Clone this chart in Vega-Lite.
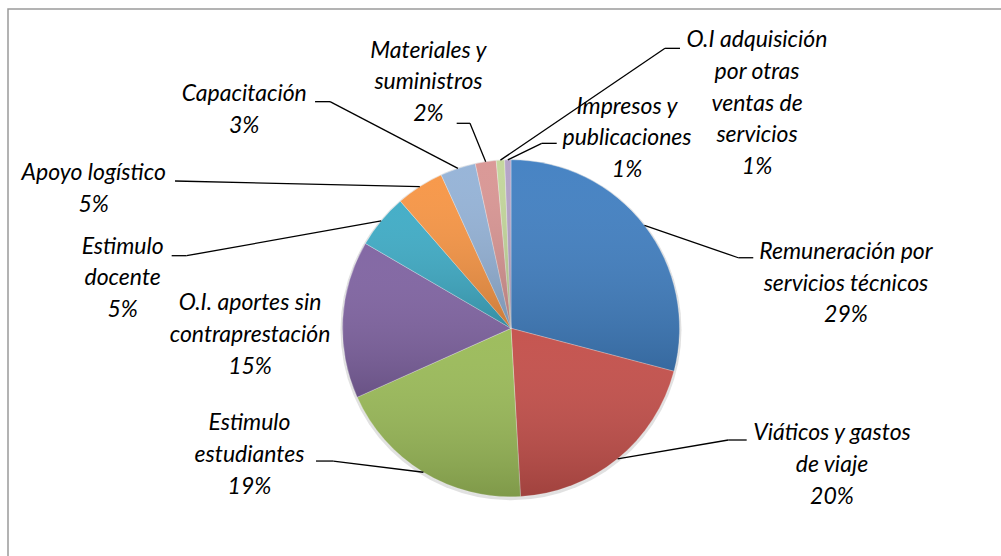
{
  "$schema": "https://vega.github.io/schema/vega-lite/v6.json",
  "width": 993,
  "height": 547,
  "autosize": {"type": "none"},
  "padding": {"left": 8, "top": 9, "right": 0, "bottom": 0},
  "background": "white",
  "config": {
    "view": {"stroke": "#9a9a9a", "strokeWidth": 1.5, "strokeDash": [993, 1540, 547]},
    "text": {"font": "Lato", "fontStyle": "italic", "fontSize": 23, "lineHeight": 31.8, "fill": "#000000", "lineBreak": "\n"}
  },
  "data": {
    "values": [
      {"idx": 1, "category": "Remuneración por servicios técnicos", "label": "Remuneración por\nservicios técnicos", "value": 29.1},
      {"idx": 2, "category": "Viáticos y gastos de viaje", "label": "Viáticos y gastos\nde viaje", "value": 20.0},
      {"idx": 3, "category": "Estimulo estudiantes", "label": "Estimulo\nestudiantes", "value": 19.2},
      {"idx": 4, "category": "O.I. aportes sin contraprestación", "label": "O.I. aportes sin\ncontraprestación", "value": 15.1},
      {"idx": 5, "category": "Estimulo docente", "label": "Estimulo\ndocente", "value": 5.2},
      {"idx": 6, "category": "Apoyo logístico", "label": "Apoyo logístico", "value": 4.6},
      {"idx": 7, "category": "Capacitación", "label": "Capacitación", "value": 3.4},
      {"idx": 8, "category": "Materiales y suministros", "label": "Materiales y\nsuministros", "value": 2.0},
      {"idx": 9, "category": "O.I adquisición por otras ventas de servicios", "label": "O.I adquisición\npor otras\nventas de\nservicios", "value": 0.8},
      {"idx": 10, "category": "Impresos y publicaciones", "label": "Impresos y\npublicaciones", "value": 0.6}
    ]
  },
  "transform": [
    {"window": [{"op": "sum", "field": "value", "as": "cum"}], "sort": [{"field": "idx"}], "frame": [null, 0]},
    {"joinaggregate": [{"op": "sum", "field": "value", "as": "total"}]},
    {"calculate": "(datum.cum - datum.value) / datum.total", "as": "f0"},
    {"calculate": "datum.cum / datum.total", "as": "f1"},
    {"calculate": "(datum.f0 + datum.f1) / 2", "as": "fm"},
    {"calculate": "sin(2 * PI * datum.fm)", "as": "ex"},
    {"calculate": "cos(2 * PI * datum.fm)", "as": "ey"},
    {"calculate": "datum.label + '\\n' + format(datum.value / datum.total, '.0%')", "as": "txt"}
  ],
  "encoding": {
    "x": {"field": "ex", "type": "quantitative", "scale": {"domain": [-2.985163, 2.908012], "nice": false, "zero": false}, "axis": null},
    "y": {"field": "ey", "type": "quantitative", "scale": {"domain": [-1.351335, 1.894955], "nice": false, "zero": false}, "axis": null}
  },
  "layer": [
    {
      "transform": [{"filter": "datum.idx == 1"}],
      "mark": {"type": "arc", "outerRadius": 170.5, "theta": 0, "theta2": 6.2832, "fill": "#c8c8c8", "opacity": 0.55, "yOffset": 1.5},
      "encoding": {"x": {"datum": 0}, "y": {"datum": 0}}
    },
    {
      "mark": {"type": "arc", "outerRadius": 168.5, "stroke": "#ffffff", "strokeWidth": 0.5, "strokeOpacity": 0.6},
      "encoding": {
        "x": {"datum": 0}, "y": {"datum": 0},
        "theta": {"field": "f0", "type": "quantitative", "stack": null, "scale": {"domain": [0, 1], "range": [0, 6.283185307]}},
        "theta2": {"field": "f1"},
        "color": {
          "field": "category", "type": "nominal", "legend": null,
          "scale": {
            "domain": ["Remuneración por servicios técnicos", "Viáticos y gastos de viaje", "Estimulo estudiantes", "O.I. aportes sin contraprestación", "Estimulo docente", "Apoyo logístico", "Capacitación", "Materiales y suministros", "O.I adquisición por otras ventas de servicios", "Impresos y publicaciones"],
            "range": ["#4280c2", "#c4504b", "#9bbb59", "#8064a2", "#40acc6", "#f79646", "#95b3d7", "#d99694", "#c3d69b", "#b3a2c7"]
          }
        }
      }
    },
    {
      "mark": {"type": "arc", "outerRadius": 168.5, "fill": {"gradient": "linear", "x1": 0, "y1": 0, "x2": 0, "y2": 1, "stops": [{"offset": 0, "color": "rgba(255,255,255,0.03)"}, {"offset": 1, "color": "rgba(0,0,0,0.18)"}]}},
      "encoding": {
        "x": {"datum": 0}, "y": {"datum": 0},
        "theta": {"field": "f0", "type": "quantitative", "stack": null, "scale": {"domain": [0, 1], "range": [0, 6.283185307]}},
        "theta2": {"field": "f1"}
      }
    },
    {"transform": [{"filter": "datum.idx == 1"}], "mark": {"type": "rule", "stroke": "#000", "strokeWidth": 1.3, "x2Offset": 93.8, "y2Offset": 32.3}, "encoding": {"x2": {"field": "ex"}, "y2": {"field": "ey"}}},
    {"transform": [{"filter": "datum.idx == 1"}], "mark": {"type": "rule", "stroke": "#000", "strokeWidth": 1.3, "xOffset": 93.8, "yOffset": 32.3, "x2Offset": 108.8, "y2Offset": 32.3}, "encoding": {"x2": {"field": "ex"}, "y2": {"field": "ey"}}},
    {"transform": [{"filter": "datum.idx == 2"}], "mark": {"type": "rule", "stroke": "#000", "strokeWidth": 1.3, "x2Offset": 110.7, "y2Offset": -18.8}, "encoding": {"x2": {"field": "ex"}, "y2": {"field": "ey"}}},
    {"transform": [{"filter": "datum.idx == 2"}], "mark": {"type": "rule", "stroke": "#000", "strokeWidth": 1.3, "xOffset": 110.7, "yOffset": -18.8, "x2Offset": 129.1, "y2Offset": -18.8}, "encoding": {"x2": {"field": "ex"}, "y2": {"field": "ey"}}},
    {"transform": [{"filter": "datum.idx == 3"}], "mark": {"type": "rule", "stroke": "#000", "strokeWidth": 1.3, "x2Offset": -90.1, "y2Offset": -11.2}, "encoding": {"x2": {"field": "ex"}, "y2": {"field": "ey"}}},
    {"transform": [{"filter": "datum.idx == 3"}], "mark": {"type": "rule", "stroke": "#000", "strokeWidth": 1.3, "xOffset": -90.1, "yOffset": -11.2, "x2Offset": -107.4, "y2Offset": -11.2}, "encoding": {"x2": {"field": "ex"}, "y2": {"field": "ey"}}},
    {"transform": [{"filter": "datum.idx == 5"}], "mark": {"type": "rule", "stroke": "#000", "strokeWidth": 1.3, "x2Offset": -194.5, "y2Offset": 34.8}, "encoding": {"x2": {"field": "ex"}, "y2": {"field": "ey"}}},
    {"transform": [{"filter": "datum.idx == 5"}], "mark": {"type": "rule", "stroke": "#000", "strokeWidth": 1.3, "xOffset": -194.5, "yOffset": 34.8, "x2Offset": -209.5, "y2Offset": 34.8}, "encoding": {"x2": {"field": "ex"}, "y2": {"field": "ey"}}},
    {"transform": [{"filter": "datum.idx == 6"}], "mark": {"type": "rule", "stroke": "#000", "strokeWidth": 1.3, "x2Offset": -244.8, "y2Offset": -5.6}, "encoding": {"x2": {"field": "ex"}, "y2": {"field": "ey"}}},
    {"transform": [{"filter": "datum.idx == 7"}], "mark": {"type": "rule", "stroke": "#000", "strokeWidth": 1.3, "x2Offset": -127.9, "y2Offset": -66.7}, "encoding": {"x2": {"field": "ex"}, "y2": {"field": "ey"}}},
    {"transform": [{"filter": "datum.idx == 7"}], "mark": {"type": "rule", "stroke": "#000", "strokeWidth": 1.3, "xOffset": -127.9, "yOffset": -66.7, "x2Offset": -142.9, "y2Offset": -66.7}, "encoding": {"x2": {"field": "ex"}, "y2": {"field": "ey"}}},
    {"transform": [{"filter": "datum.idx == 8"}], "mark": {"type": "rule", "stroke": "#000", "strokeWidth": 1.3, "x2Offset": -15.7, "y2Offset": -38.4}, "encoding": {"x2": {"field": "ex"}, "y2": {"field": "ey"}}},
    {"transform": [{"filter": "datum.idx == 8"}], "mark": {"type": "rule", "stroke": "#000", "strokeWidth": 1.3, "xOffset": -15.7, "yOffset": -38.4, "x2Offset": -29, "y2Offset": -38.4}, "encoding": {"x2": {"field": "ex"}, "y2": {"field": "ey"}}},
    {"transform": [{"filter": "datum.idx == 9"}], "mark": {"type": "rule", "stroke": "#000", "strokeWidth": 1.3, "x2Offset": 164.6, "y2Offset": -111.8}, "encoding": {"x2": {"field": "ex"}, "y2": {"field": "ey"}}},
    {"transform": [{"filter": "datum.idx == 9"}], "mark": {"type": "rule", "stroke": "#000", "strokeWidth": 1.3, "xOffset": 164.6, "yOffset": -111.8, "x2Offset": 179.6, "y2Offset": -111.8}, "encoding": {"x2": {"field": "ex"}, "y2": {"field": "ey"}}},
    {"transform": [{"filter": "datum.idx == 10"}], "mark": {"type": "rule", "stroke": "#000", "strokeWidth": 1.3, "x2Offset": 33.9, "y2Offset": -16.5}, "encoding": {"x2": {"field": "ex"}, "y2": {"field": "ey"}}},
    {"transform": [{"filter": "datum.idx == 10"}], "mark": {"type": "rule", "stroke": "#000", "strokeWidth": 1.3, "xOffset": 33.9, "yOffset": -16.5, "x2Offset": 48.9, "y2Offset": -16.5}, "encoding": {"x2": {"field": "ex"}, "y2": {"field": "ey"}}},
    {"transform": [{"filter": "datum.idx == 1"}], "mark": {"type": "text", "align": "center", "baseline": "middle", "xOffset": 201.5, "yOffset": 26.3}, "encoding": {"text": {"field": "txt"}}},
    {"transform": [{"filter": "datum.idx == 2"}], "mark": {"type": "text", "align": "center", "baseline": "middle", "xOffset": 214.4, "yOffset": -25.5}, "encoding": {"text": {"field": "txt"}}},
    {"transform": [{"filter": "datum.idx == 3"}], "mark": {"type": "text", "align": "center", "baseline": "middle", "xOffset": -173.9, "yOffset": -48.9}, "encoding": {"text": {"field": "txt"}}},
    {"transform": [{"filter": "datum.idx == 4"}], "mark": {"type": "text", "align": "center", "baseline": "middle", "xOffset": -92.7, "yOffset": -16}, "encoding": {"text": {"field": "txt"}}},
    {"transform": [{"filter": "datum.idx == 5"}], "mark": {"type": "text", "align": "center", "baseline": "middle", "xOffset": -258.5, "yOffset": 25.8}, "encoding": {"text": {"field": "txt"}}},
    {"transform": [{"filter": "datum.idx == 6"}], "mark": {"type": "text", "align": "center", "baseline": "middle", "xOffset": -326.1, "yOffset": -13.3}, "encoding": {"text": {"field": "txt"}}},
    {"transform": [{"filter": "datum.idx == 7"}], "mark": {"type": "text", "align": "center", "baseline": "middle", "xOffset": -213.7, "yOffset": -74.4}, "encoding": {"text": {"field": "txt"}}},
    {"transform": [{"filter": "datum.idx == 8"}], "mark": {"type": "text", "align": "center", "baseline": "middle", "xOffset": -57.2, "yOffset": -111.2}, "encoding": {"text": {"field": "txt"}}},
    {"transform": [{"filter": "datum.idx == 9"}], "mark": {"type": "text", "align": "center", "baseline": "middle", "xOffset": 256.6, "yOffset": -120.1}, "encoding": {"text": {"field": "txt"}}},
    {"transform": [{"filter": "datum.idx == 10"}], "mark": {"type": "text", "align": "center", "baseline": "middle", "xOffset": 119.2, "yOffset": -53.3}, "encoding": {"text": {"field": "txt"}}}
  ]
}
